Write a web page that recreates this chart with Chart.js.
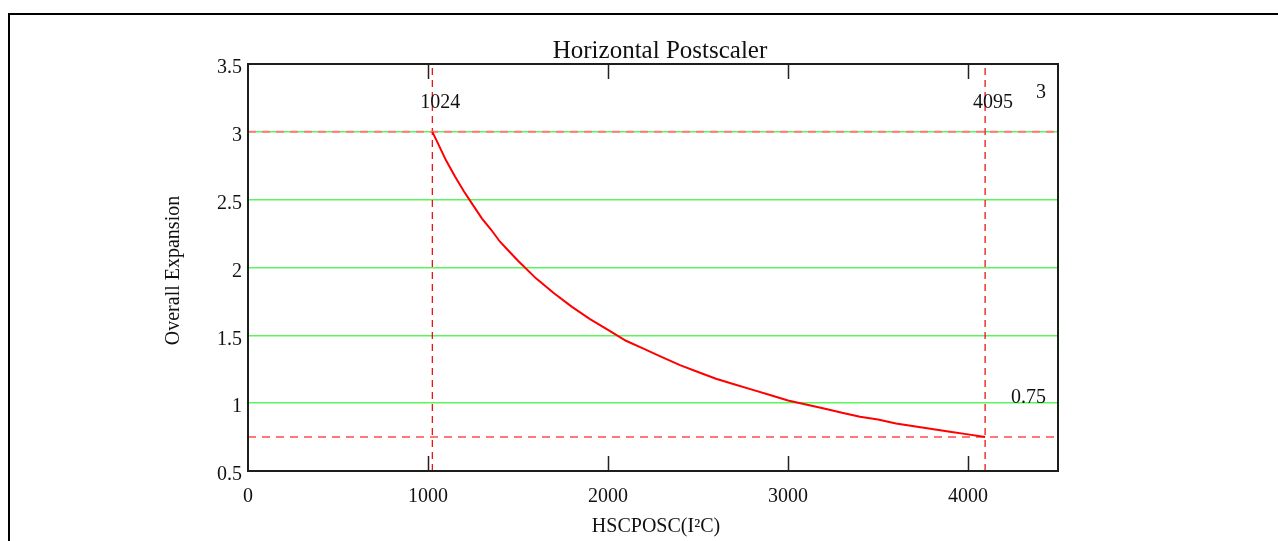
<!DOCTYPE html>
<html>
<head>
<meta charset="utf-8">
<script src="https://cdn.jsdelivr.net/npm/chart.js@4.4.0/dist/chart.umd.min.js"></script>
<style>
  body { margin: 0; background: #fff; }
  #wrap { width: 1278px; height: 541px; position: relative; }
</style>
</head>
<body>
<div id="wrap"><canvas id="myChart" width="1278" height="541"></canvas></div>
<script>
// values
const hscposc = [1024, 1050, 1100, 1150, 1200, 1250, 1300, 1350, 1400, 1450, 1500, 1600, 1700,
    1800, 1900, 2000, 2100, 2200, 2300, 2400, 2500, 2600, 2700, 2800, 2900, 3000, 3100,
    3200, 3300, 3400, 3500, 3600, 3700, 3800, 3900, 4000, 4095];
const expansion = [3.00, 2.93, 2.79, 2.67, 2.56, 2.46, 2.36, 2.28, 2.19, 2.12, 2.05, 1.92, 1.81,
    1.71, 1.62, 1.54, 1.46, 1.40, 1.34, 1.28, 1.23, 1.18, 1.14, 1.10, 1.06, 1.02, 0.99,
    0.96, 0.93, 0.90, 0.88, 0.85, 0.83, 0.81, 0.79, 0.77, 0.75];
const markerX = [1024, 4095];
const markerY = [3, 0.75];
const markerXLabels = ['1024', '4095'];
const markerYLabels = ['3', '0.75'];
const xTicks = [0, 1000, 2000, 3000, 4000];
const xRange = [0, 4500];
const yRange = [0.5, 3.5];

const FONT = "'Liberation Serif', 'Times New Roman', serif";

function curvePoints() {
    return hscposc.map((x, i) => ({ x: x, y: expansion[i] }));
}

function hMarkers() {
    return markerY.map(v => ({
        data: [{ x: xRange[0], y: v }, { x: xRange[1], y: v }],
        showLine: true,
        borderColor: 'rgb(255, 120, 120)',
        borderWidth: 2,
        borderDash: [8, 6],
        pointRadius: 0,
        order: 2
    }));
}

function vMarkers() {
    return markerX.map(v => ({
        data: [{ x: v, y: yRange[0] }, { x: v, y: yRange[1] }],
        showLine: true,
        borderColor: 'rgb(235, 0, 0)',
        borderWidth: 1.2,
        borderDash: [7, 5],
        pointRadius: 0,
        order: 2
    }));
}

const extras = {
    id: 'extras',
    beforeDraw(chart) {
        const c = chart.ctx;
        c.save();
        c.fillStyle = '#fff';
        c.fillRect(0, 0, chart.width, chart.height);
        c.restore();
    },
    afterDraw(chart) {
        const c = chart.ctx;
        const a = chart.chartArea;
        const xs = chart.scales.x;
        const ys = chart.scales.y;
        c.save();
        // page frame
        c.fillStyle = '#000';
        c.fillRect(8, 13, chart.width - 8, 2);
        c.fillRect(8, 13, 2, chart.height - 13);
        // plot box
        c.strokeStyle = '#1a1f1a';
        c.lineWidth = 2;
        c.strokeRect(a.left, a.top, a.right - a.left, a.bottom - a.top);
        // inner ticks top and bottom
        c.lineWidth = 1.5;
        c.strokeStyle = '#222';
        xTicks.slice(1).forEach(t => {
            const px = Math.round(xs.getPixelForValue(t)) + 0.5;
            c.beginPath();
            c.moveTo(px, a.bottom);
            c.lineTo(px, a.bottom - 15);
            c.moveTo(px, a.top);
            c.lineTo(px, a.top + 15);
            c.stroke();
        });
        c.fillStyle = '#111';
        c.font = '20px ' + FONT;
        c.textBaseline = 'middle';
        // marker labels
        c.textAlign = 'center';
        markerX.forEach((v, i) => {
            c.fillText(markerXLabels[i], xs.getPixelForValue(v) + 8, a.top + 39);
        });
        c.textAlign = 'right';
        markerY.forEach((v, i) => {
            c.fillText(markerYLabels[i], a.right - 12, ys.getPixelForValue(v) - 39);
        });
        // titles
        c.textAlign = 'center';
        c.fillText('HSCPOSC(I\u00B2C)', 656, 527);
        c.save();
        c.translate(174, (a.top + a.bottom) / 2 + 3);
        c.rotate(-Math.PI / 2);
        c.fillText('Overall Expansion', 0, 0);
        c.restore();
        c.font = '25px ' + FONT;
        c.fillText('Horizontal Postscaler', 660, 51);
        c.restore();
    }
};

function drawChart(id) {
    const data = {
        datasets: [{
            label: 'Overall Expansion',
            data: curvePoints(),
            showLine: true,
            borderColor: 'rgb(255, 0, 0)',
            borderWidth: 2,
            pointRadius: 0,
            order: 1
        }].concat(hMarkers(), vMarkers())
    };
    const config = {
        type: 'scatter',
        data: data,
        options: {
            responsive: false,
            animation: false,
            layout: { padding: { left: 0, top: 64, right: 220, bottom: 0 } },
            plugins: { legend: { display: false }, tooltip: { enabled: false } },
            scales: {
                x: {
                    type: 'linear',
                    min: xRange[0],
                    max: xRange[1],
                    afterFit: s => { s.height = 70; },
                    afterBuildTicks: s => { s.ticks = xTicks.map(v => ({ value: v })); },
                    border: { display: false },
                    grid: { display: false, drawTicks: false },
                    ticks: {
                        padding: 14,
                        color: '#111',
                        font: { family: FONT, size: 20 },
                        callback: v => String(v)
                    }
                },
                y: {
                    type: 'linear',
                    min: yRange[0],
                    max: yRange[1],
                    afterFit: s => { s.width = 248; },
                    border: { display: false },
                    grid: {
                        drawTicks: false,
                        lineWidth: 1.5,
                        color: ctx => (ctx.tick && (ctx.tick.value === yRange[0] || ctx.tick.value === yRange[1]))
                            ? 'rgba(0,0,0,0)' : 'rgb(90, 245, 90)'
                    },
                    ticks: {
                        stepSize: 0.5,
                        padding: 6,
                        labelOffset: 4,
                        color: '#111',
                        font: { family: FONT, size: 20 },
                        callback: v => String(v)
                    }
                }
            }
        },
        plugins: [extras]
    };

    let ctx = document.getElementById(id).getContext('2d')
    new Chart(ctx, config)
}

drawChart('myChart');
</script>
</body>
</html>
